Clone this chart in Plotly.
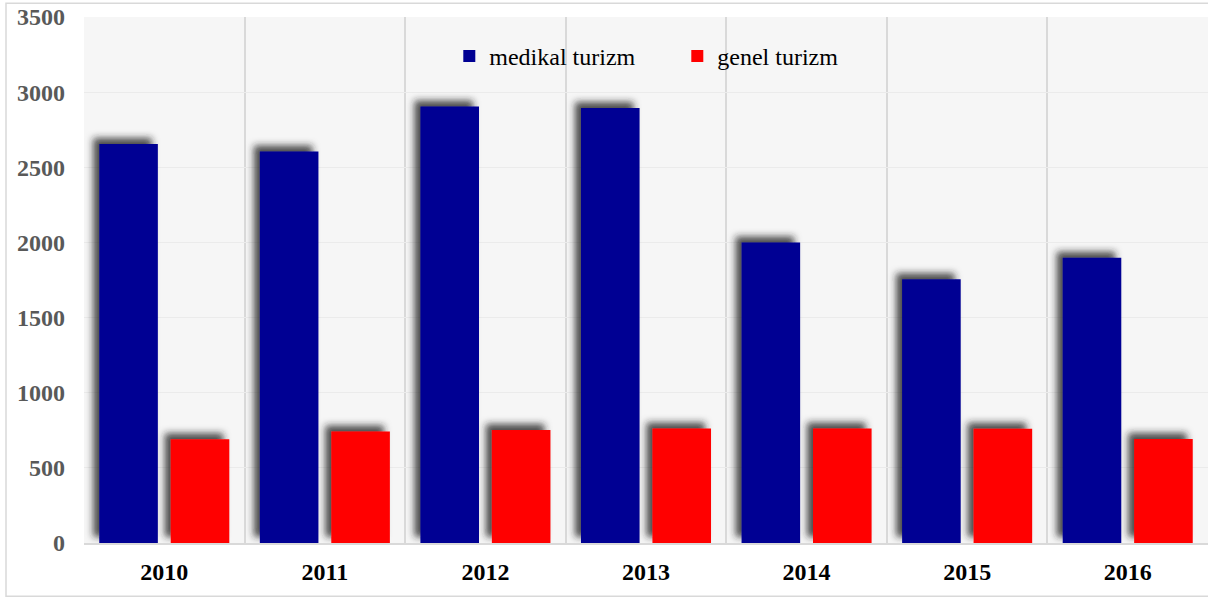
import plotly.graph_objects as go

years = ["2010", "2011", "2012", "2013", "2014", "2015", "2016"]
medikal = [2655, 2605, 2905, 2895, 2000, 1755, 1898]
genel = [690, 742, 752, 762, 762, 760, 692]
y_ticks = [0, 500, 1000, 1500, 2000, 2500, 3000, 3500]

_BLUE = "#000093"
_RED = "#FF0000"
_FONT = "Liberation Serif, Times New Roman, serif"

fig = go.Figure()
fig.add_trace(go.Bar(x=years, y=medikal, name="medikal turizm", marker=dict(color=_BLUE, line=dict(width=0))))
fig.add_trace(go.Bar(x=years, y=genel, name="genel turizm", marker=dict(color=_RED, line=dict(width=0))))

# light frame around the whole chart, like the source image
fig.add_shape(
    type="rect", xref="paper", yref="paper",
    x0=-0.0694, x1=1.01, y0=-0.101, y1=1.026,
    line=dict(color="#d9d9d9", width=1.5), layer="below",
)

fig.update_layout(
    width=1208,
    height=597,
    margin=dict(l=84, r=0, t=17, b=54),
    paper_bgcolor="white",
    plot_bgcolor="#f6f6f6",
    font=dict(family=_FONT, size=24, color="black"),
    barmode="group",
    bargap=0.11,
    bargroupgap=0.18,
    showlegend=True,
    legend=dict(
        orientation="h", x=0.325, xanchor="left", y=0.925, yanchor="middle",
        bgcolor="rgba(0,0,0,0)", font=dict(family=_FONT, size=24, color="black"),
        itemwidth=30, entrywidth=183, traceorder="normal",
    ),
    xaxis=dict(
        tickson="boundaries", showgrid=True, gridcolor="#d9d9d9", gridwidth=1.5,
        ticks="", showline=True, linecolor="#d9d9d9", linewidth=2, ticklabelstandoff=6,
        tickfont=dict(family=_FONT, size=24, color="black", weight="bold"),
    ),
    yaxis=dict(
        range=[0, 3500], tickvals=y_ticks, showgrid=True, gridcolor="#ebebeb", gridwidth=1,
        zeroline=False, ticks="", ticklabelstandoff=18,
        tickfont=dict(family=_FONT, size=24, color="#595959", weight="bold"),
    ),
)

# page margin off, plus a blurred drop shadow up-left of every bar (SVG filter, styling only)
shadow_js = """
(function(){
  document.body.style.margin = '0';
  var gd = document.getElementById('{plot_id}');
  function apply(){
    var svg = gd.querySelector('svg.main-svg');
    if(!svg) return;
    var ns = 'http://www.w3.org/2000/svg';
    if(!document.getElementById('barshadow')){
      var defs = svg.querySelector('defs') || svg.insertBefore(document.createElementNS(ns,'defs'), svg.firstChild);
      var f = document.createElementNS(ns,'filter');
      f.setAttribute('id','barshadow');
      f.setAttribute('x','-40%'); f.setAttribute('y','-20%');
      f.setAttribute('width','160%'); f.setAttribute('height','140%');
      f.innerHTML = '<feGaussianBlur in="SourceAlpha" stdDeviation="3.8"/>' +
        '<feOffset dx="-6" dy="-6" result="ob"/>' +
        '<feFlood flood-color="#222" flood-opacity="0.8"/>' +
        '<feComposite in2="ob" operator="in"/>' +
        '<feMerge><feMergeNode/><feMergeNode in="SourceGraphic"/></feMerge>';
      defs.appendChild(f);
    }
    gd.querySelectorAll('.barlayer .trace.bars .point path').forEach(function(p){
      p.setAttribute('filter','url(#barshadow)');
    });
  }
  apply();
  if(gd.on) gd.on('plotly_afterplot', apply);
  setTimeout(apply, 50);
})();
"""

fig.write_html("out.html", post_script=shadow_js, config={"displayModeBar": False})
